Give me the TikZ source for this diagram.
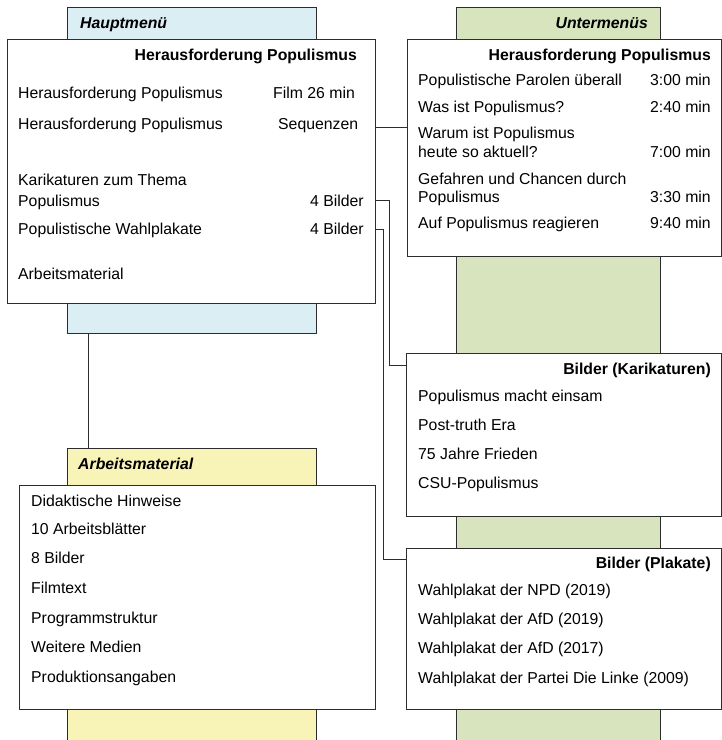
\documentclass[tikz,border=0pt]{standalone}
\usepackage{fontspec}
\setmainfont{Liberation Sans}
\definecolor{cblue}{RGB}{218,238,243}
\definecolor{cgreen}{RGB}{215,228,189}
\definecolor{cyellow}{RGB}{248,243,183}
\definecolor{cline}{RGB}{45,45,45}
\begin{document}
\begin{tikzpicture}[x=1pt,y=-1pt,
  font=\fontsize{15.8}{19}\selectfont,
  col/.style={draw=cline, line width=1pt, inner sep=0pt, anchor=north west},
  box/.style={draw=cline, line width=1pt, fill=white, inner sep=0pt, anchor=north west},
  lt/.style={anchor=mid west, inner sep=0pt, yshift=-3pt},
  rt/.style={anchor=mid east, inner sep=0pt, yshift=-3pt},
  hd/.style={anchor=mid east, inner sep=0pt, yshift=-3pt, font=\fontsize{15.8}{19}\selectfont\bfseries},
  ttl/.style={anchor=mid west, inner sep=0pt, yshift=-3pt, font=\fontsize{15.8}{19}\selectfont\bfseries\itshape},
  conn/.style={draw=cline, line width=1pt}]
\useasboundingbox (0,0) rectangle (722,740);
\clip (0,0) rectangle (722,740);
% columns
\node[col, fill=cblue, minimum width=249pt, minimum height=326pt] (bluecol) at (67,7) {};
\node[col, fill=cgreen, minimum width=204pt, minimum height=760pt] (greencol) at (456,7) {};
\node[col, fill=cyellow, minimum width=249pt, minimum height=320pt] (yelcol) at (67,448) {};
\node[ttl] (thaupt) at (80,23) {Hauptmenü};
\node[ttl, anchor=mid east] (tunter) at (648,23) {Untermenüs};
\node[ttl] (tarb) at (78,464) {Arbeitsmaterial};
% boxes
\node[box, minimum width=368pt, minimum height=264pt] (main) at (7,39) {};
\node[box, minimum width=314pt, minimum height=217pt] (sub) at (407,39) {};
\node[box, minimum width=315pt, minimum height=163pt] (kar) at (406,353) {};
\node[box, minimum width=315pt, minimum height=161pt] (plak) at (406,548) {};
\node[box, minimum width=356pt, minimum height=224pt] (arb) at (19,485) {};
% main text
\node[hd] (mh) at (357,55) {Herausforderung Populismus};
\node[lt] (m1) at (18,93) {Herausforderung Populismus};
\node[lt] (m1r) at (273,93) {Film 26 min};
\node[lt] (m2) at (18,124) {Herausforderung Populismus};
\node[lt] (m2r) at (278,124) {Sequenzen};
\node[lt] (m3a) at (18,180) {Karikaturen zum Thema};
\node[lt] (m3) at (18,201) {Populismus};
\node[lt] (m3r) at (310,201) {4 Bilder};
\node[lt] (m4) at (18,229) {Populistische Wahlplakate};
\node[lt] (m4r) at (310,229) {4 Bilder};
\node[lt] (m5) at (18,274) {Arbeitsmaterial};
% submenu text
\node[hd] (sh) at (711,55) {Herausforderung Populismus};
\node[lt] (s1) at (418,80) {Populistische Parolen überall};
\node[rt] (s1r) at (711,80) {3:00 min};
\node[lt] (s2) at (418,107) {Was ist Populismus?};
\node[rt] (s2r) at (711,107) {2:40 min};
\node[lt] (s3a) at (418,133) {Warum ist Populismus};
\node[lt] (s3) at (418,152) {heute so aktuell?};
\node[rt] (s3r) at (711,152) {7:00 min};
\node[lt] (s4a) at (418,179) {Gefahren und Chancen durch};
\node[lt] (s4) at (418,197) {Populismus};
\node[rt] (s4r) at (711,197) {3:30 min};
\node[lt] (s5) at (418,223) {Auf Populismus reagieren};
\node[rt] (s5r) at (711,223) {9:40 min};
% karikaturen
\node[hd] (kh) at (711,369) {Bilder (Karikaturen)};
\node[lt] (k1) at (418,396) {Populismus macht einsam};
\node[lt] (k2) at (418,425) {Post-truth Era};
\node[lt] (k3) at (418,454) {75 Jahre Frieden};
\node[lt] (k4) at (418,483) {CSU-Populismus};
% plakate
\node[hd] (ph) at (711,563) {Bilder (Plakate)};
\node[lt] (p1) at (418,590) {Wahlplakat der NPD (2019)};
\node[lt] (p2) at (418,619) {Wahlplakat der AfD (2019)};
\node[lt] (p3) at (418,648) {Wahlplakat der AfD (2017)};
\node[lt] (p4) at (418,678) {Wahlplakat der Partei Die Linke (2009)};
% arbeitsmaterial
\node[lt] (a1) at (31,501) {Didaktische Hinweise};
\node[lt] (a2) at (31,529) {10 Arbeitsblätter};
\node[lt] (a3) at (31,558) {8 Bilder};
\node[lt] (a4) at (31,588) {Filmtext};
\node[lt] (a5) at (31,618) {Programmstruktur};
\node[lt] (a6) at (31,647) {Weitere Medien};
\node[lt] (a7) at (31,677) {Produktionsangaben};
% connectors
\coordinate (vx) at (88,0);
\coordinate (kbend) at (389,200);
\coordinate (kin) at (406,365);
\coordinate (pbend) at (383,229);
\coordinate (pin) at (406,559);
\draw[conn] (main.east |- m2r.mid) -- (sub.west |- m2r.mid);
\draw[conn] (main.east |- kbend) -- (kbend) |- (kin);
\draw[conn] (main.east |- pbend) -- (pbend) |- (pin);
\draw[conn] (bluecol.south -| vx) -- (yelcol.north -| vx);
\end{tikzpicture}
\end{document}
